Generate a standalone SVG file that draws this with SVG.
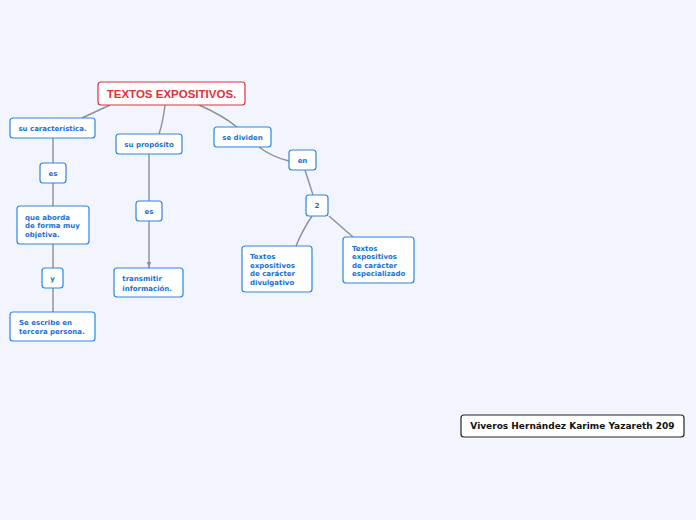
<svg xmlns="http://www.w3.org/2000/svg" width="696" height="520" viewBox="0 0 696 520">
<defs>
<style>
.bg{fill:#f2f5fd}
.n{fill:#ffffff;stroke:#2a86e6;stroke-width:1.2}
.t{font-family:"DejaVu Sans",Verdana,sans-serif;font-weight:bold;font-size:7px;fill:#1a6fd6}
.c{text-anchor:middle}
.title{fill:#ffffff;stroke:#e0303a;stroke-width:1.2}
.tt{font-family:"Liberation Sans",Arial,sans-serif;font-weight:bold;font-size:11.5px;fill:#e0303a;text-anchor:middle}
.blk{fill:#ffffff;stroke:#222222;stroke-width:1.2}
.bt{font-family:"DejaVu Sans",Verdana,sans-serif;font-weight:bold;font-size:9px;fill:#111111;text-anchor:middle}
.l{fill:none;stroke:#8e8f96;stroke-width:1.4}
</style>
<marker id="arr" viewBox="0 0 8 6" refX="8" refY="3" markerWidth="6" markerHeight="4.5" orient="auto" markerUnits="userSpaceOnUse">
<path d="M0,0 L8,3 L0,6 Z" fill="#8e8f96"/>
</marker>
</defs>
<rect class="bg" x="0" y="0" width="696" height="520"/>
<g id="connectors">
<path class="l" d="M110,105 L82,118"/>
<path class="l" d="M165,105 Q163,122 159,134"/>
<path class="l" d="M199,105 Q222,115 237,127"/>
<path class="l" d="M259,147 Q272,157 289,161"/>
<path class="l" d="M305,170 L313,195"/>
<path class="l" d="M312,216 Q302,231 296,246"/>
<path class="l" d="M329,216 L353,237"/>
<path class="l" d="M53,138 L53,163"/>
<path class="l" d="M53,183 L53,206"/>
<path class="l" d="M53,244 L53,268"/>
<path class="l" d="M53,288 L53,312"/>
<path class="l" d="M149,154 L149,201"/>
<path class="l" d="M149,221 L149,268" marker-end="url(#arr)"/>
</g>
<g id="n-title">
<rect class="title" x="98" y="82" width="147" height="23" rx="3"/>
<text class="tt" x="171.5" y="97.7">TEXTOS EXPOSITIVOS.</text>
</g>
<g id="n-caracteristica">
<rect class="n" x="10" y="118" width="85" height="20" rx="3"/>
<text class="t c" x="52.5" y="130.8">su característica.</text>
</g>
<g id="n-proposito">
<rect class="n" x="116" y="134" width="66" height="20" rx="3"/>
<text class="t c" x="149" y="146.8">su propósito</text>
</g>
<g id="n-dividen">
<rect class="n" x="214" y="127" width="57" height="20" rx="3"/>
<text class="t c" x="242.5" y="139.8">se dividen</text>
</g>
<g id="n-es1">
<rect class="n" x="40" y="163" width="26" height="20" rx="3"/>
<text class="t c" x="53" y="175.8">es</text>
</g>
<g id="n-es2">
<rect class="n" x="136" y="201" width="26" height="20" rx="3"/>
<text class="t c" x="149" y="213.8">es</text>
</g>
<g id="n-en">
<rect class="n" x="289" y="150" width="27" height="20" rx="3"/>
<text class="t c" x="302.5" y="162.8">en</text>
</g>
<g id="n-2">
<rect class="n" x="306" y="195" width="22" height="21" rx="3"/>
<text class="t c" x="317" y="208.3">2</text>
</g>
<g id="n-aborda">
<rect class="n" x="17" y="206" width="72" height="38" rx="3"/>
<text class="t" x="25" y="219.8">que aborda</text>
<text class="t" x="25" y="228.2">de forma muy</text>
<text class="t" x="25" y="236.8">objetiva.</text>
</g>
<g id="n-y">
<rect class="n" x="42" y="268" width="21" height="20" rx="3"/>
<text class="t c" x="52.5" y="280.8">y</text>
</g>
<g id="n-tercera">
<rect class="n" x="10" y="312" width="85" height="29" rx="3"/>
<text class="t" x="19" y="324.8">Se escribe en</text>
<text class="t" x="19" y="334.2">tercera persona.</text>
</g>
<g id="n-transmitir">
<rect class="n" x="114" y="268" width="69" height="29" rx="3"/>
<text class="t" x="122.3" y="281.2">transmitir</text>
<text class="t" x="122.3" y="290.5">información.</text>
</g>
<g id="n-divulgativo">
<rect class="n" x="242" y="246" width="70" height="46" rx="3"/>
<text class="t" x="250" y="259.2">Textos</text>
<text class="t" x="250" y="267.8">expositivos</text>
<text class="t" x="250" y="276.2">de carácter</text>
<text class="t" x="250" y="284.8">divulgativo</text>
</g>
<g id="n-especializado">
<rect class="n" x="343" y="237" width="71" height="46" rx="3"/>
<text class="t" x="352" y="250.8">Textos</text>
<text class="t" x="352" y="259.2">expositivos</text>
<text class="t" x="352" y="267.8">de carácter</text>
<text class="t" x="352" y="276.2">especializado</text>
</g>
<g id="n-autor">
<rect class="blk" x="461" y="415" width="223" height="22" rx="3"/>
<text class="bt" x="572.5" y="429.3">Viveros Hernández Karime Yazareth 209</text>
</g>
</svg>
